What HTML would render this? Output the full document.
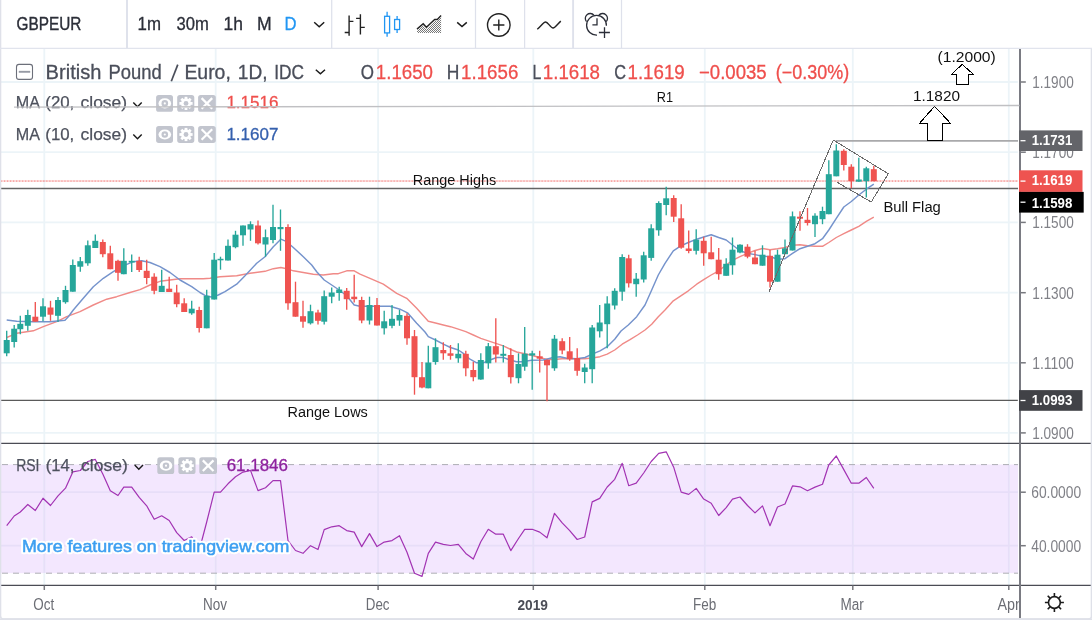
<!DOCTYPE html>
<html><head><meta charset="utf-8"><title>GBPEUR</title>
<style>
html,body{margin:0;padding:0;background:#fff;}
body{width:1092px;height:620px;overflow:hidden;font-family:"Liberation Sans", sans-serif;}
svg{display:block;font-family:"Liberation Sans", sans-serif;will-change:transform;}
</style></head><body>
<svg width="1092" height="620" viewBox="0 0 1092 620">
<rect x="0" y="0" width="1092" height="620" fill="#ffffff"/>
<rect x="1" y="464.5" width="1017" height="108.7" fill="#f3e7fe"/>
<g stroke="#ecf4f8" stroke-width="1.8" fill="none">
<path d="M44.3 48.5V585"/>
<path d="M215.7 48.5V585"/>
<path d="M378.1 48.5V585"/>
<path d="M533.3 48.5V585"/>
<path d="M704.8 48.5V585"/>
<path d="M852.8 48.5V585"/>
<path d="M1008.8 48.5V585"/>
<path d="M1 82H1017.8"/>
<path d="M1 152.2H1017.8"/>
<path d="M1 222.4H1017.8"/>
<path d="M1 292.7H1017.8"/>
<path d="M1 362.8H1017.8"/>
<path d="M1 432.9H1017.8"/>
</g>
<g stroke="#e7def8" stroke-width="1.8" fill="none">
<path d="M44.3 465V573"/>
<path d="M215.7 465V573"/>
<path d="M378.1 465V573"/>
<path d="M533.3 465V573"/>
<path d="M704.8 465V573"/>
<path d="M852.8 465V573"/>
<path d="M1008.8 465V573"/>
<path d="M1 492.2H1018"/>
<path d="M1 545.7H1018"/>
</g>
<g stroke="#adaeb4" stroke-width="1" stroke-dasharray="6 5" fill="none"><path d="M2 464.6H1018"/><path d="M2 573.2H1018"/></g>
<path d="M835.6 140.9H1018" stroke="#a9a9ab" stroke-width="1.9" fill="none"/>
<path d="M1 188.6H1018" stroke="#646464" stroke-width="1.5" fill="none"/>
<path d="M1 400.4H1017.8" stroke="#5a5a5a" stroke-width="1.25" fill="none"/>
<path d="M1 181.1H1018" stroke="#ef5350" stroke-width="2" fill="none" opacity="0.2"/>
<path d="M1 181.1H1018" stroke="#ef5350" stroke-width="1.9" stroke-dasharray="1.1 1.92" fill="none" opacity="0.4"/>
<polyline points="6.7,337.5 16.7,333.3 33.3,330.8 43.3,326.7 56.7,321.7 66.7,316.7 80,311.7 93.3,305 106.7,299.2 116.7,296.7 130,292.5 140,289.7 150,285 160,281.3 170,280 180,278.8 203.3,278.8 210,278.3 220,276.7 236.7,275.8 250,273.3 265,271.3 273.3,268.7 280.8,267.5 286.7,268.7 293.3,270.8 303.3,272.5 313.3,274.2 323.3,275 333.3,273.8 338.3,273.7 346.7,270.8 354.2,270.8 360,274.2 370,278.3 383.3,284.2 396.7,293.3 406.7,298.3 416.7,308.3 428.3,321.3 435.5,323 443.3,325 450.5,326.7 458.3,329.2 465.8,331.7 473.3,335 480.8,338.3 488.3,340.8 495.8,343.3 503.3,345.8 510.8,349.5 516.7,352 524.7,353.7 532.2,355.5 539.7,357.5 547,359.5 554.5,359.5 562.2,358.8 569.7,358.7 577.2,358.7 584.7,358.7 592.2,358 600,356.7 607.2,354.2 614.7,350 622.2,344.2 630,339.7 637.5,335 645,330 651.7,324.2 658.3,316.7 665,310 673.3,300.8 680.8,295.8 688.3,290.8 696.7,284.2 703.7,279.7 711.2,275 718.7,270.8 726.2,265 732.5,260.3 740,256.7 747.5,253.3 755,250.5 762.5,248.5 770,249.7 777.5,248.7 785,247.5 792.5,245.3 800,244.7 807.5,245.8 815,246.3 822.5,246.3 828.8,242.5 836.3,237.5 843.8,233.7 851.3,230 858.8,226.3 866.3,221.3 873.8,217.2" fill="none" stroke="#f08a87" stroke-width="1.4" stroke-linejoin="round"/>
<polyline points="6.7,320 16.7,321.3 33.3,321.7 50,321.7 65,320.3 68.3,316.7 73.3,310 83.3,298.3 93.3,286.7 103.3,278.3 113.3,271.7 123.3,265.8 133.3,261.7 141.7,260.8 150,262.5 160,266.7 170,272.5 180,280 191.7,286.7 200,292.5 205.8,295.8 211,297 218.3,295 225,291.7 236.7,284.2 245,275.8 256.7,263.3 265,256.7 273.3,246.7 280.8,239.2 286.7,241.7 293.3,247.5 303.3,256.7 311.7,265 316.7,271.7 324.2,280 331.7,285 339.2,290 346.7,295.8 354.2,305 360,306.3 390,306.3 400,309.2 407.5,312.8 416.7,323.3 425,332 428.3,336.7 435.5,340 443.3,344.2 450.5,347.5 458.3,350 463.3,353.3 470,359.2 476.7,362.8 483.3,362.8 490,360 496.7,357.5 503.3,357.5 510,360 516.7,361.7 522,361.7 531.7,360.3 543.3,360 553.3,357.5 560,356.7 566.7,358.3 576.7,358.8 585,357.5 592.2,354.2 600,350.8 607.2,346.7 614.7,339.2 621,331 628.3,325 636.7,316.7 645,305 651.7,290 658.3,275 665,263.3 673.3,250.8 680.8,245.8 688.3,242.5 696.7,239.2 703.7,237 711.2,234.7 718.7,237.5 726.2,240 732.5,245 740,250.8 747.5,253.3 755,254.6 762.5,256.2 770,256.5 777.5,259.2 785,258.7 792.5,253.3 800,248.7 807.5,246.3 815,243.7 822.5,238.7 828.8,230 836.3,218.3 843.8,207 851.3,201.5 858.8,195 866.3,189.2 873.8,184.2" fill="none" stroke="#7593cc" stroke-width="1.45" stroke-linejoin="round"/>
<path d="M6.7 330.8V356.3" stroke="#26a69a" stroke-width="1.35"/><rect x="3.7" y="340.0" width="6" height="13.3" fill="#26a69a"/>
<path d="M14.2 325.0V347.5" stroke="#26a69a" stroke-width="1.35"/><rect x="11.2" y="328.7" width="6" height="13.3" fill="#26a69a"/>
<path d="M20.3 315.8V334.2" stroke="#26a69a" stroke-width="1.35"/><rect x="17.3" y="323.8" width="6" height="5.4" fill="#26a69a"/>
<path d="M27.8 309.7V330.8" stroke="#26a69a" stroke-width="1.35"/><rect x="24.8" y="315.0" width="6" height="10.8" fill="#26a69a"/>
<path d="M35.3 302.0V321.7" stroke="#ef5350" stroke-width="1.35"/><rect x="32.3" y="316.7" width="6" height="5.0" fill="#ef5350"/>
<path d="M43.0 298.3V321.3" stroke="#26a69a" stroke-width="1.35"/><rect x="40.0" y="306.3" width="6" height="10.4" fill="#26a69a"/>
<path d="M50.5 300.8V320.8" stroke="#ef5350" stroke-width="1.35"/><rect x="47.5" y="307.5" width="6" height="7.2" fill="#ef5350"/>
<path d="M58.0 297.0V322.0" stroke="#26a69a" stroke-width="1.35"/><rect x="55.0" y="300.0" width="6" height="15.8" fill="#26a69a"/>
<path d="M65.5 285.8V303.7" stroke="#26a69a" stroke-width="1.35"/><rect x="62.5" y="290.0" width="6" height="12.2" fill="#26a69a"/>
<path d="M72.8 259.5V291.7" stroke="#26a69a" stroke-width="1.35"/><rect x="69.8" y="265.0" width="6" height="26.7" fill="#26a69a"/>
<path d="M80.3 257.0V271.7" stroke="#26a69a" stroke-width="1.35"/><rect x="77.3" y="261.2" width="6" height="5.5" fill="#26a69a"/>
<path d="M87.8 240.5V265.8" stroke="#26a69a" stroke-width="1.35"/><rect x="84.8" y="245.3" width="6" height="18.0" fill="#26a69a"/>
<path d="M95.3 234.5V248.0" stroke="#26a69a" stroke-width="1.35"/><rect x="92.3" y="240.8" width="6" height="7.2" fill="#26a69a"/>
<path d="M102.8 239.5V257.2" stroke="#ef5350" stroke-width="1.35"/><rect x="99.8" y="242.0" width="6" height="12.2" fill="#ef5350"/>
<path d="M110.3 245.8V269.2" stroke="#ef5350" stroke-width="1.35"/><rect x="107.3" y="253.3" width="6" height="15.9" fill="#ef5350"/>
<path d="M118.0 259.7V280.8" stroke="#ef5350" stroke-width="1.35"/><rect x="115.0" y="260.8" width="6" height="12.0" fill="#ef5350"/>
<path d="M123.8 248.3V274.2" stroke="#26a69a" stroke-width="1.35"/><rect x="120.8" y="260.8" width="6" height="13.4" fill="#26a69a"/>
<path d="M131.7 254.5V272.0" stroke="#26a69a" stroke-width="1.35"/><rect x="128.7" y="260.8" width="6" height="1.7" fill="#26a69a"/>
<path d="M139.2 256.7V272.0" stroke="#ef5350" stroke-width="1.35"/><rect x="136.2" y="260.8" width="6" height="9.2" fill="#ef5350"/>
<path d="M146.7 259.7V284.2" stroke="#ef5350" stroke-width="1.35"/><rect x="143.7" y="270.8" width="6" height="7.2" fill="#ef5350"/>
<path d="M154.2 273.3V294.2" stroke="#ef5350" stroke-width="1.35"/><rect x="151.2" y="276.7" width="6" height="14.1" fill="#ef5350"/>
<path d="M161.7 269.7V292.0" stroke="#26a69a" stroke-width="1.35"/><rect x="158.7" y="285.8" width="6" height="6.2" fill="#26a69a"/>
<path d="M169.2 276.7V292.0" stroke="#ef5350" stroke-width="1.35"/><rect x="166.2" y="288.7" width="6" height="3.3" fill="#ef5350"/>
<path d="M176.7 284.7V307.2" stroke="#ef5350" stroke-width="1.35"/><rect x="173.7" y="292.5" width="6" height="11.7" fill="#ef5350"/>
<path d="M184.2 298.3V312.0" stroke="#ef5350" stroke-width="1.35"/><rect x="181.2" y="303.3" width="6" height="8.7" fill="#ef5350"/>
<path d="M191.7 300.8V314.7" stroke="#26a69a" stroke-width="1.35"/><rect x="188.7" y="308.7" width="6" height="4.6" fill="#26a69a"/>
<path d="M199.2 306.7V332.5" stroke="#ef5350" stroke-width="1.35"/><rect x="196.2" y="310.0" width="6" height="18.0" fill="#ef5350"/>
<path d="M206.7 289.7V328.3" stroke="#26a69a" stroke-width="1.35"/><rect x="203.7" y="295.8" width="6" height="32.5" fill="#26a69a"/>
<path d="M214.2 253.0V299.5" stroke="#26a69a" stroke-width="1.35"/><rect x="211.2" y="259.7" width="6" height="39.8" fill="#26a69a"/>
<path d="M220.5 256.7V269.7" stroke="#26a69a" stroke-width="1.35"/><rect x="217.5" y="258.8" width="6" height="1.5" fill="#26a69a"/>
<path d="M228.0 239.5V260.5" stroke="#26a69a" stroke-width="1.35"/><rect x="225.0" y="245.8" width="6" height="14.7" fill="#26a69a"/>
<path d="M235.5 230.8V248.3" stroke="#26a69a" stroke-width="1.35"/><rect x="232.5" y="234.7" width="6" height="12.5" fill="#26a69a"/>
<path d="M243.0 225.5V245.8" stroke="#26a69a" stroke-width="1.35"/><rect x="240.0" y="225.5" width="6" height="9.8" fill="#26a69a"/>
<path d="M250.5 221.3V240.8" stroke="#26a69a" stroke-width="1.35"/><rect x="247.5" y="224.2" width="6" height="5.3" fill="#26a69a"/>
<path d="M258.0 220.5V244.5" stroke="#ef5350" stroke-width="1.35"/><rect x="255.0" y="225.5" width="6" height="17.8" fill="#ef5350"/>
<path d="M265.5 229.5V256.7" stroke="#26a69a" stroke-width="1.35"/><rect x="262.5" y="237.2" width="6" height="7.3" fill="#26a69a"/>
<path d="M273.0 204.7V243.3" stroke="#26a69a" stroke-width="1.35"/><rect x="270.0" y="227.0" width="6" height="13.0" fill="#26a69a"/>
<path d="M280.5 209.5V250.8" stroke="#26a69a" stroke-width="1.35"/><rect x="277.5" y="227.0" width="6" height="2.2" fill="#26a69a"/>
<path d="M288.0 224.2V309.7" stroke="#ef5350" stroke-width="1.35"/><rect x="285.0" y="227.0" width="6" height="76.3" fill="#ef5350"/>
<path d="M295.5 281.7V316.7" stroke="#ef5350" stroke-width="1.35"/><rect x="292.5" y="302.2" width="6" height="14.5" fill="#ef5350"/>
<path d="M303.0 300.8V327.8" stroke="#ef5350" stroke-width="1.35"/><rect x="300.0" y="316.2" width="6" height="5.5" fill="#ef5350"/>
<path d="M310.5 304.7V324.5" stroke="#26a69a" stroke-width="1.35"/><rect x="307.5" y="311.2" width="6" height="12.1" fill="#26a69a"/>
<path d="M318.0 309.7V324.5" stroke="#ef5350" stroke-width="1.35"/><rect x="315.0" y="312.5" width="6" height="8.3" fill="#ef5350"/>
<path d="M324.2 290.5V324.5" stroke="#26a69a" stroke-width="1.35"/><rect x="321.2" y="296.2" width="6" height="25.5" fill="#26a69a"/>
<path d="M331.7 287.5V303.3" stroke="#26a69a" stroke-width="1.35"/><rect x="328.7" y="292.5" width="6" height="4.2" fill="#26a69a"/>
<path d="M339.2 286.7V300.8" stroke="#26a69a" stroke-width="1.35"/><rect x="336.2" y="289.5" width="6" height="3.5" fill="#26a69a"/>
<path d="M346.7 288.0V309.7" stroke="#ef5350" stroke-width="1.35"/><rect x="343.7" y="290.8" width="6" height="8.4" fill="#ef5350"/>
<path d="M354.2 274.7V302.5" stroke="#ef5350" stroke-width="1.35"/><rect x="351.2" y="296.7" width="6" height="2.5" fill="#ef5350"/>
<path d="M361.7 296.7V323.3" stroke="#ef5350" stroke-width="1.35"/><rect x="358.7" y="300.0" width="6" height="20.5" fill="#ef5350"/>
<path d="M369.5 296.7V324.5" stroke="#26a69a" stroke-width="1.35"/><rect x="366.5" y="305.0" width="6" height="15.5" fill="#26a69a"/>
<path d="M377.0 298.0V325.5" stroke="#ef5350" stroke-width="1.35"/><rect x="374.0" y="305.0" width="6" height="20.5" fill="#ef5350"/>
<path d="M384.2 310.8V334.5" stroke="#26a69a" stroke-width="1.35"/><rect x="381.2" y="321.3" width="6" height="7.0" fill="#26a69a"/>
<path d="M392.0 305.0V328.3" stroke="#26a69a" stroke-width="1.35"/><rect x="389.0" y="318.8" width="6" height="7.0" fill="#26a69a"/>
<path d="M399.5 310.0V325.8" stroke="#26a69a" stroke-width="1.35"/><rect x="396.5" y="315.0" width="6" height="5.5" fill="#26a69a"/>
<path d="M407.0 313.3V344.7" stroke="#ef5350" stroke-width="1.35"/><rect x="404.0" y="315.8" width="6" height="22.5" fill="#ef5350"/>
<path d="M414.5 330.0V394.7" stroke="#ef5350" stroke-width="1.35"/><rect x="411.5" y="336.2" width="6" height="41.0" fill="#ef5350"/>
<path d="M422.0 362.0V388.3" stroke="#ef5350" stroke-width="1.35"/><rect x="419.0" y="377.2" width="6" height="10.3" fill="#ef5350"/>
<path d="M428.3 345.8V388.3" stroke="#26a69a" stroke-width="1.35"/><rect x="425.3" y="362.5" width="6" height="25.8" fill="#26a69a"/>
<path d="M435.5 338.3V364.7" stroke="#26a69a" stroke-width="1.35"/><rect x="432.5" y="347.2" width="6" height="14.8" fill="#26a69a"/>
<path d="M443.3 342.2V359.7" stroke="#ef5350" stroke-width="1.35"/><rect x="440.3" y="350.0" width="6" height="3.3" fill="#ef5350"/>
<path d="M450.5 345.0V359.7" stroke="#ef5350" stroke-width="1.35"/><rect x="447.5" y="353.3" width="6" height="2.5" fill="#ef5350"/>
<path d="M458.3 343.3V362.8" stroke="#26a69a" stroke-width="1.35"/><rect x="455.3" y="353.8" width="6" height="4.5" fill="#26a69a"/>
<path d="M465.8 350.8V376.3" stroke="#ef5350" stroke-width="1.35"/><rect x="462.8" y="353.8" width="6" height="14.5" fill="#ef5350"/>
<path d="M473.3 361.7V381.3" stroke="#ef5350" stroke-width="1.35"/><rect x="470.3" y="370.0" width="6" height="7.2" fill="#ef5350"/>
<path d="M480.8 353.3V379.7" stroke="#26a69a" stroke-width="1.35"/><rect x="477.8" y="360.0" width="6" height="19.5" fill="#26a69a"/>
<path d="M488.3 343.0V368.8" stroke="#26a69a" stroke-width="1.35"/><rect x="485.3" y="346.2" width="6" height="17.1" fill="#26a69a"/>
<path d="M495.8 318.3V362.5" stroke="#ef5350" stroke-width="1.35"/><rect x="492.8" y="346.2" width="6" height="8.3" fill="#ef5350"/>
<path d="M503.3 345.0V362.5" stroke="#26a69a" stroke-width="1.35"/><rect x="500.3" y="353.8" width="6" height="2.0" fill="#26a69a"/>
<path d="M510.8 348.3V383.5" stroke="#ef5350" stroke-width="1.35"/><rect x="507.8" y="355.0" width="6" height="22.2" fill="#ef5350"/>
<path d="M518.5 353.3V383.3" stroke="#26a69a" stroke-width="1.35"/><rect x="515.5" y="364.0" width="6" height="14.2" fill="#26a69a"/>
<path d="M524.7 327.0V370.8" stroke="#26a69a" stroke-width="1.35"/><rect x="521.7" y="353.7" width="6" height="13.0" fill="#26a69a"/>
<path d="M532.2 350.8V389.7" stroke="#26a69a" stroke-width="1.35"/><rect x="529.2" y="353.3" width="6" height="2.2" fill="#26a69a"/>
<path d="M539.7 350.8V372.5" stroke="#ef5350" stroke-width="1.35"/><rect x="536.7" y="356.3" width="6" height="2.4" fill="#ef5350"/>
<path d="M547.0 359.2V401.2" stroke="#ef5350" stroke-width="1.35"/><rect x="544.0" y="360.0" width="6" height="5.3" fill="#ef5350"/>
<path d="M554.5 335.0V370.8" stroke="#26a69a" stroke-width="1.35"/><rect x="551.5" y="338.7" width="6" height="29.6" fill="#26a69a"/>
<path d="M562.2 338.3V354.2" stroke="#ef5350" stroke-width="1.35"/><rect x="559.2" y="341.2" width="6" height="9.3" fill="#ef5350"/>
<path d="M569.7 337.0V360.8" stroke="#ef5350" stroke-width="1.35"/><rect x="566.7" y="351.3" width="6" height="7.9" fill="#ef5350"/>
<path d="M577.2 348.3V375.8" stroke="#ef5350" stroke-width="1.35"/><rect x="574.2" y="358.0" width="6" height="12.8" fill="#ef5350"/>
<path d="M584.7 363.7V383.3" stroke="#26a69a" stroke-width="1.35"/><rect x="581.7" y="367.5" width="6" height="4.5" fill="#26a69a"/>
<path d="M592.2 325.0V383.3" stroke="#26a69a" stroke-width="1.35"/><rect x="589.2" y="327.5" width="6" height="41.7" fill="#26a69a"/>
<path d="M599.7 305.0V337.5" stroke="#26a69a" stroke-width="1.35"/><rect x="596.7" y="322.5" width="6" height="8.8" fill="#26a69a"/>
<path d="M607.2 296.2V348.3" stroke="#26a69a" stroke-width="1.35"/><rect x="604.2" y="303.5" width="6" height="20.7" fill="#26a69a"/>
<path d="M614.7 288.3V309.5" stroke="#26a69a" stroke-width="1.35"/><rect x="611.7" y="290.8" width="6" height="14.7" fill="#26a69a"/>
<path d="M622.2 254.2V300.8" stroke="#26a69a" stroke-width="1.35"/><rect x="619.2" y="257.0" width="6" height="34.7" fill="#26a69a"/>
<path d="M628.7 254.7V287.5" stroke="#ef5350" stroke-width="1.35"/><rect x="625.7" y="258.3" width="6" height="25.0" fill="#ef5350"/>
<path d="M636.2 273.0V296.7" stroke="#26a69a" stroke-width="1.35"/><rect x="633.2" y="278.7" width="6" height="5.5" fill="#26a69a"/>
<path d="M643.7 251.7V282.5" stroke="#26a69a" stroke-width="1.35"/><rect x="640.7" y="255.3" width="6" height="24.2" fill="#26a69a"/>
<path d="M651.2 224.2V260.8" stroke="#26a69a" stroke-width="1.35"/><rect x="648.2" y="228.3" width="6" height="29.6" fill="#26a69a"/>
<path d="M658.7 201.3V235.7" stroke="#26a69a" stroke-width="1.35"/><rect x="655.7" y="203.0" width="6" height="27.3" fill="#26a69a"/>
<path d="M666.2 186.7V215.3" stroke="#26a69a" stroke-width="1.35"/><rect x="663.2" y="198.3" width="6" height="6.7" fill="#26a69a"/>
<path d="M673.7 195.3V222.0" stroke="#ef5350" stroke-width="1.35"/><rect x="670.7" y="198.0" width="6" height="18.7" fill="#ef5350"/>
<path d="M681.2 204.2V248.8" stroke="#ef5350" stroke-width="1.35"/><rect x="678.2" y="218.3" width="6" height="29.4" fill="#ef5350"/>
<path d="M688.7 230.5V253.3" stroke="#ef5350" stroke-width="1.35"/><rect x="685.7" y="248.5" width="6" height="2.5" fill="#ef5350"/>
<path d="M696.2 229.2V254.5" stroke="#26a69a" stroke-width="1.35"/><rect x="693.2" y="239.7" width="6" height="11.1" fill="#26a69a"/>
<path d="M703.7 236.7V265.8" stroke="#ef5350" stroke-width="1.35"/><rect x="700.7" y="240.8" width="6" height="12.5" fill="#ef5350"/>
<path d="M711.2 236.7V259.2" stroke="#ef5350" stroke-width="1.35"/><rect x="708.2" y="252.3" width="6" height="6.9" fill="#ef5350"/>
<path d="M718.7 248.0V279.7" stroke="#ef5350" stroke-width="1.35"/><rect x="715.7" y="259.7" width="6" height="14.5" fill="#ef5350"/>
<path d="M726.2 258.3V275.8" stroke="#26a69a" stroke-width="1.35"/><rect x="723.2" y="263.8" width="6" height="12.0" fill="#26a69a"/>
<path d="M732.5 237.5V274.7" stroke="#26a69a" stroke-width="1.35"/><rect x="729.5" y="249.7" width="6" height="15.6" fill="#26a69a"/>
<path d="M740.0 244.2V253.3" stroke="#26a69a" stroke-width="1.35"/><rect x="737.0" y="244.7" width="6" height="7.8" fill="#26a69a"/>
<path d="M747.5 244.2V258.3" stroke="#ef5350" stroke-width="1.35"/><rect x="744.5" y="246.7" width="6" height="10.0" fill="#ef5350"/>
<path d="M755.0 250.8V264.2" stroke="#ef5350" stroke-width="1.35"/><rect x="752.0" y="257.5" width="6" height="6.7" fill="#ef5350"/>
<path d="M762.5 245.3V265.7" stroke="#26a69a" stroke-width="1.35"/><rect x="759.5" y="254.7" width="6" height="11.0" fill="#26a69a"/>
<path d="M770.0 250.0V287.5" stroke="#ef5350" stroke-width="1.35"/><rect x="767.0" y="255.8" width="6" height="25.9" fill="#ef5350"/>
<path d="M777.5 249.7V281.7" stroke="#26a69a" stroke-width="1.35"/><rect x="774.5" y="254.7" width="6" height="27.0" fill="#26a69a"/>
<path d="M785.0 239.5V254.2" stroke="#26a69a" stroke-width="1.35"/><rect x="782.0" y="248.3" width="6" height="5.9" fill="#26a69a"/>
<path d="M792.5 211.5V250.5" stroke="#26a69a" stroke-width="1.35"/><rect x="789.5" y="216.3" width="6" height="34.2" fill="#26a69a"/>
<path d="M800.0 211.3V230.8" stroke="#ef5350" stroke-width="1.35"/><rect x="797.0" y="216.7" width="6" height="2.0" fill="#ef5350"/>
<path d="M807.5 208.0V225.5" stroke="#ef5350" stroke-width="1.35"/><rect x="804.5" y="219.8" width="6" height="3.2" fill="#ef5350"/>
<path d="M815.0 213.2V237.0" stroke="#26a69a" stroke-width="1.35"/><rect x="812.0" y="215.7" width="6" height="8.5" fill="#26a69a"/>
<path d="M822.5 206.7V224.2" stroke="#26a69a" stroke-width="1.35"/><rect x="819.5" y="211.0" width="6" height="8.2" fill="#26a69a"/>
<path d="M828.8 160.3V214.2" stroke="#26a69a" stroke-width="1.35"/><rect x="825.8" y="174.2" width="6" height="40.0" fill="#26a69a"/>
<path d="M836.3 144.2V176.3" stroke="#26a69a" stroke-width="1.35"/><rect x="833.3" y="150.5" width="6" height="25.8" fill="#26a69a"/>
<path d="M843.8 149.2V170.5" stroke="#ef5350" stroke-width="1.35"/><rect x="840.8" y="150.8" width="6" height="14.2" fill="#ef5350"/>
<path d="M851.3 164.2V188.3" stroke="#ef5350" stroke-width="1.35"/><rect x="848.3" y="166.7" width="6" height="14.5" fill="#ef5350"/>
<path d="M858.8 157.8V181.7" stroke="#26a69a" stroke-width="1.35"/><rect x="855.8" y="179.5" width="6" height="2.2" fill="#26a69a"/>
<path d="M866.3 166.7V197.5" stroke="#26a69a" stroke-width="1.35"/><rect x="863.3" y="168.3" width="6" height="12.9" fill="#26a69a"/>
<path d="M873.8 165.8V181.2" stroke="#ef5350" stroke-width="1.35"/><rect x="870.8" y="169.2" width="6" height="12.0" fill="#ef5350"/>
<polyline points="769,292 833.3,140 888.3,173.8 871.2,202 836.7,182" fill="none" stroke="#6a6a6a" stroke-width="1" shape-rendering="crispEdges"/>
<path d="M934.6 106.3L950.6 123.4H942.6V140.4H927.6V123.4H919.4Z" fill="#fff" stroke="#000" stroke-width="1" stroke-linejoin="miter" shape-rendering="crispEdges"/>
<path d="M962.2 64.3L973.7 74.7H968V84.5H956.4V74.7H951.3Z" fill="#fff" stroke="#000" stroke-width="1" stroke-linejoin="miter" shape-rendering="crispEdges"/>
<polyline points="6.7,525.6 14.2,516.0 20.3,512.0 27.8,504.5 35.3,510.5 43.0,498.2 50.5,505.5 58.0,495.8 65.5,488.2 72.8,471.9 80.3,470.5 87.8,461.5 95.3,459.4 102.8,474.1 110.3,490.7 118.0,495.5 123.8,487.1 131.7,487.1 139.2,497.4 146.7,505.8 154.2,519.3 161.7,515.8 169.2,520.5 176.7,532.6 184.2,540.5 191.7,536.8 199.2,550.5 206.7,522.0 214.2,492.1 220.5,492.1 228.0,483.8 235.5,476.7 243.0,472.1 250.5,470.4 258.0,490.6 265.5,487.8 273.0,480.6 280.5,480.6 288.0,540.5 295.5,550.5 303.0,553.3 310.5,545.7 318.0,549.5 324.2,529.6 331.7,526.8 339.2,525.7 346.7,530.6 354.2,532.1 361.7,546.6 369.5,533.6 377.0,546.6 384.2,542.1 392.0,540.6 399.5,535.7 407.0,552.3 414.5,573.2 422.0,576.4 428.3,553.4 435.5,542.1 443.3,544.4 450.5,545.5 458.3,544.4 465.8,553.4 473.3,559.1 480.8,541.7 488.3,529.3 495.8,534.2 503.3,534.2 510.8,550.6 518.5,538.5 524.7,529.3 532.2,529.3 539.7,532.1 547.0,537.8 554.5,513.3 562.2,522.9 569.7,530.6 577.2,539.5 584.7,537.0 592.2,501.9 599.7,498.4 607.2,487.0 614.7,479.3 622.2,463.3 628.7,485.7 636.2,483.1 643.7,473.0 651.2,461.5 658.7,453.3 666.2,451.8 673.7,467.2 681.2,492.1 688.7,494.4 696.2,488.4 703.7,499.1 711.2,503.3 718.7,515.5 726.2,507.6 732.5,499.1 740.0,497.0 747.5,505.5 755.0,512.9 762.5,505.9 770.0,525.7 777.5,507.0 785.0,504.0 792.5,485.9 800.0,486.8 807.5,490.7 815.0,487.1 822.5,484.2 828.8,464.8 836.3,456.0 843.8,469.6 851.3,483.2 858.8,483.2 866.3,477.5 873.8,488.3" fill="none" stroke="#a233b3" stroke-width="1.2" stroke-linejoin="round"/>
<path d="M1 443.4H1091" stroke="#4b4c55" stroke-width="1.2"/>
<path d="M1 585.3H1091" stroke="#4b4c55" stroke-width="1.2"/>
<path d="M1020.0 49V618" stroke="#7a7b82" stroke-width="2"/>
<g stroke="#77787e" stroke-width="1.5">
<path d="M1021 82H1025.8"/>
<path d="M1021 152.2H1025.8"/>
<path d="M1021 222.4H1025.8"/>
<path d="M1021 292.7H1025.8"/>
<path d="M1021 362.8H1025.8"/>
<path d="M1021 432.9H1025.8"/>
<path d="M1021 492.2H1025.8"/>
<path d="M1021 545.7H1025.8"/>
<path d="M44.3 585.5V590"/>
<path d="M215.7 585.5V590"/>
<path d="M378.1 585.5V590"/>
<path d="M533.3 585.5V590"/>
<path d="M704.8 585.5V590"/>
<path d="M852.8 585.5V590"/>
<path d="M1008.8 585.5V590"/>
</g>
<path d="M0.5 0V616Q0.5 619 3.5 619H1088Q1091.5 619 1091.5 616V48" fill="none" stroke="#dfe1e9" stroke-width="1.6"/>
<rect x="0" y="618.3" width="1092" height="1.7" fill="#dfe1e9"/>
<path d="M0 48.4H1092" stroke="#e1e4ed" stroke-width="1.3"/>
<path d="M127 0V48" stroke="#dee1eb" stroke-width="1.9"/>
<path d="M331.7 0V48" stroke="#dee1eb" stroke-width="1.25"/>
<path d="M475.5 0V48" stroke="#dee1eb" stroke-width="1.25"/>
<path d="M524.6 0V48" stroke="#dee1eb" stroke-width="1.25"/>
<path d="M573.1 0V48" stroke="#dee1eb" stroke-width="1.9"/>
<path d="M621.5 0V48" stroke="#dee1eb" stroke-width="1.25"/>
<text x="16.6" y="29.8" font-size="18.4" fill="#2b2e38" font-weight="normal" textLength="64.8" lengthAdjust="spacingAndGlyphs" stroke="#2b2e38" stroke-width="0.4">GBPEUR</text>
<text x="137.6" y="29.8" font-size="18.4" fill="#2b2e38" font-weight="normal" textLength="23.4" lengthAdjust="spacingAndGlyphs" stroke="#2b2e38" stroke-width="0.3">1m</text>
<text x="176.6" y="29.8" font-size="18.4" fill="#2b2e38" font-weight="normal" textLength="32.3" lengthAdjust="spacingAndGlyphs" stroke="#2b2e38" stroke-width="0.3">30m</text>
<text x="223.6" y="29.8" font-size="18.4" fill="#2b2e38" font-weight="normal" textLength="19.4" lengthAdjust="spacingAndGlyphs" stroke="#2b2e38" stroke-width="0.3">1h</text>
<text x="256.9" y="29.8" font-size="18.4" fill="#2b2e38" font-weight="normal" textLength="14.7" lengthAdjust="spacingAndGlyphs" stroke="#2b2e38" stroke-width="0.3">M</text>
<text x="284.5" y="29.8" font-size="18.4" fill="#2196f3" font-weight="normal" textLength="12.0" lengthAdjust="spacingAndGlyphs" stroke="#2196f3" stroke-width="0.3">D</text>
<path d="M314.2 22.2L319.2 26.7L324.2 22.2" fill="none" stroke="#1a1a1a" stroke-width="1.45"/>
<path d="M457.2 22.4L462.0 26.6L466.8 22.4" fill="none" stroke="#1a1a1a" stroke-width="1.45"/>
<path d="M349.1 15.6V35.7M349.1 21.4H353.4M344.7 32.5H349.1M360.4 14.3V34.5M356.1 18.4H360.4M360.4 27.4H364.8" fill="none" stroke="#222" stroke-width="1.4"/>
<g fill="none" stroke="#2196f3" stroke-width="1.3"><rect x="384.6" y="16.3" width="5" height="16.6"/><path d="M387.1 11.8V16.3M387.1 32.9V36.8"/><rect x="394.6" y="19.5" width="5" height="10"/><path d="M397.1 16V19.5M397.1 29.5V32.9"/></g>
<defs><pattern id="dots" width="2" height="2" patternUnits="userSpaceOnUse"><rect width="1" height="1" fill="#555"/><rect x="1" y="1" width="1" height="1" fill="#555"/></pattern></defs>
<path d="M417 30.6L423.2 25.2L426.4 28.7L434.7 21L437.3 21L441.1 17.1V32.9H417Z" fill="url(#dots)" opacity="0.8"/>
<path d="M417 29.1L423.2 23.7L426.4 27.2L434.7 19.5L437.3 19.5L441.1 15.6" fill="none" stroke="#222" stroke-width="1.4"/>
<g fill="none" stroke="#222" stroke-width="1.4"><circle cx="498.8" cy="25" r="11.3"/><path d="M493.2 25H504.4M498.8 19.5V30.5"/></g>
<path d="M537.3 29.3C541 26 543.5 22 545.6 22C548 22 550.5 28 553.1 28C555 28 558 23.5 560.8 21.1" fill="none" stroke="#222" stroke-width="1.4"/>
<g fill="none" stroke="#2b2e38" stroke-width="1.3"><path d="M597 35.2A9.9 9.9 0 1 1 606.4 25.7"/><path d="M586.5 21.6A4.6 4.6 0 1 1 593.9 15.2"/><path d="M598.9 15.2A4.6 4.6 0 1 1 606.3 21.6"/><path d="M597 18.2V24.9H592.4"/><path d="M598.9 32.5H609.9M604.5 27.2V38.1"/></g>
<rect x="16.5" y="64.4" width="16" height="15" rx="2.5" fill="#fff" stroke="#6c6f7a" stroke-width="1.1"/><path d="M18.8 71.8H30.2" stroke="#969aa4" stroke-width="1.9"/>
<text x="45.6" y="78.5" font-size="19.5" fill="#4a4e5a" font-weight="normal" textLength="55.8" lengthAdjust="spacingAndGlyphs" stroke="#4a4e5a" stroke-width="0.3">British</text>
<text x="108.6" y="78.5" font-size="19.5" fill="#4a4e5a" font-weight="normal" textLength="53.2" lengthAdjust="spacingAndGlyphs" stroke="#4a4e5a" stroke-width="0.3">Pound</text>
<path d="M171.3 81.2L177.8 64.6" stroke="#4a4e5a" stroke-width="1.7" fill="none"/>
<text x="184.4" y="78.5" font-size="19.5" fill="#4a4e5a" font-weight="normal" textLength="46.4" lengthAdjust="spacingAndGlyphs" stroke="#4a4e5a" stroke-width="0.3">Euro,</text>
<text x="237.8" y="78.5" font-size="19.5" fill="#4a4e5a" font-weight="normal" textLength="29.7" lengthAdjust="spacingAndGlyphs" stroke="#4a4e5a" stroke-width="0.3">1D,</text>
<text x="274.2" y="78.5" font-size="19.5" fill="#4a4e5a" font-weight="normal" textLength="29.8" lengthAdjust="spacingAndGlyphs" stroke="#4a4e5a" stroke-width="0.3">IDC</text>
<path d="M315.8 69.8L320.4 73.9L325.0 69.8" fill="none" stroke="#1a1a1a" stroke-width="1.45"/>
<text x="360.8" y="78.5" font-size="19.5" fill="#4a4e5a" font-weight="normal" textLength="13.2" lengthAdjust="spacingAndGlyphs" stroke="#4a4e5a" stroke-width="0.3">O</text>
<text x="375.8" y="78.5" font-size="19.5" fill="#ef4f4c" font-weight="normal" textLength="57.2" lengthAdjust="spacingAndGlyphs" stroke="#ef4f4c" stroke-width="0.3">1.1650</text>
<text x="446.7" y="78.5" font-size="19.5" fill="#4a4e5a" font-weight="normal" textLength="12.6" lengthAdjust="spacingAndGlyphs" stroke="#4a4e5a" stroke-width="0.3">H</text>
<text x="461.1" y="78.5" font-size="19.5" fill="#ef4f4c" font-weight="normal" textLength="57.2" lengthAdjust="spacingAndGlyphs" stroke="#ef4f4c" stroke-width="0.3">1.1656</text>
<text x="532.5" y="78.5" font-size="19.5" fill="#4a4e5a" font-weight="normal" textLength="8.8" lengthAdjust="spacingAndGlyphs" stroke="#4a4e5a" stroke-width="0.3">L</text>
<text x="542.8" y="78.5" font-size="19.5" fill="#ef4f4c" font-weight="normal" textLength="57.2" lengthAdjust="spacingAndGlyphs" stroke="#ef4f4c" stroke-width="0.3">1.1618</text>
<text x="614.2" y="78.5" font-size="19.5" fill="#4a4e5a" font-weight="normal" textLength="11.8" lengthAdjust="spacingAndGlyphs" stroke="#4a4e5a" stroke-width="0.3">C</text>
<text x="627.5" y="78.5" font-size="19.5" fill="#ef4f4c" font-weight="normal" textLength="57.2" lengthAdjust="spacingAndGlyphs" stroke="#ef4f4c" stroke-width="0.3">1.1619</text>
<text x="699.0" y="78.5" font-size="19.5" fill="#ef4f4c" font-weight="normal" textLength="67.7" lengthAdjust="spacingAndGlyphs" stroke="#ef4f4c" stroke-width="0.3">−0.0035</text>
<text x="775.8" y="78.5" font-size="19.5" fill="#ef4f4c" font-weight="normal" textLength="73.4" lengthAdjust="spacingAndGlyphs" stroke="#ef4f4c" stroke-width="0.3">(−0.30%)</text>
<text x="15.8" y="108.4" font-size="17.1" fill="#4d515d" font-weight="normal" textLength="24.2" lengthAdjust="spacingAndGlyphs" stroke="#4d515d" stroke-width="0.25">MA</text>
<text x="45.3" y="108.4" font-size="17.1" fill="#4d515d" font-weight="normal" textLength="29.0" lengthAdjust="spacingAndGlyphs" stroke="#4d515d" stroke-width="0.25">(20,</text>
<text x="80.6" y="108.4" font-size="17.1" fill="#4d515d" font-weight="normal" textLength="46.4" lengthAdjust="spacingAndGlyphs" stroke="#4d515d" stroke-width="0.25">close)</text>
<path d="M133.3 102.6L137.5 106.7L141.7 102.6" fill="none" stroke="#1a1a1a" stroke-width="1.45"/>
<rect x="156.1" y="95.0" width="16.9" height="16.8" rx="2.6" fill="#c2c5ce"/>
<rect x="177.2" y="95.0" width="17.1" height="16.8" rx="2.6" fill="#c2c5ce"/>
<rect x="198.1" y="95.0" width="17.7" height="16.8" rx="2.6" fill="#c2c5ce"/>
<ellipse cx="164.8" cy="103.4" rx="6.3" ry="5.1" fill="#fff"/><circle cx="164.8" cy="103.4" r="3.3" fill="#c2c5ce"/><circle cx="164.8" cy="103.4" r="1.1" fill="#fff"/>
<circle cx="186.0" cy="103.4" r="4.9" fill="#fff"/>
<rect x="184.6" y="96.8" width="2.8" height="3" fill="#fff" transform="rotate(0 186.0 103.4)"/>
<rect x="184.6" y="96.8" width="2.8" height="3" fill="#fff" transform="rotate(45 186.0 103.4)"/>
<rect x="184.6" y="96.8" width="2.8" height="3" fill="#fff" transform="rotate(90 186.0 103.4)"/>
<rect x="184.6" y="96.8" width="2.8" height="3" fill="#fff" transform="rotate(135 186.0 103.4)"/>
<rect x="184.6" y="96.8" width="2.8" height="3" fill="#fff" transform="rotate(180 186.0 103.4)"/>
<rect x="184.6" y="96.8" width="2.8" height="3" fill="#fff" transform="rotate(225 186.0 103.4)"/>
<rect x="184.6" y="96.8" width="2.8" height="3" fill="#fff" transform="rotate(270 186.0 103.4)"/>
<rect x="184.6" y="96.8" width="2.8" height="3" fill="#fff" transform="rotate(315 186.0 103.4)"/>
<circle cx="186.0" cy="103.4" r="2.4" fill="#c2c5ce"/>
<path d="M201.6 98.1L212.2 108.7M212.2 98.1L201.6 108.7" stroke="#fff" stroke-width="2.2" fill="none"/>
<text x="226.4" y="108.4" font-size="17.1" fill="#ef4f4c" font-weight="normal" textLength="52.0" lengthAdjust="spacingAndGlyphs" stroke="#ef4f4c" stroke-width="0.3">1.1516</text>
<text x="15.8" y="140.2" font-size="17.1" fill="#4d515d" font-weight="normal" textLength="24.2" lengthAdjust="spacingAndGlyphs" stroke="#4d515d" stroke-width="0.25">MA</text>
<text x="45.3" y="140.2" font-size="17.1" fill="#4d515d" font-weight="normal" textLength="29.0" lengthAdjust="spacingAndGlyphs" stroke="#4d515d" stroke-width="0.25">(10,</text>
<text x="80.6" y="140.2" font-size="17.1" fill="#4d515d" font-weight="normal" textLength="46.4" lengthAdjust="spacingAndGlyphs" stroke="#4d515d" stroke-width="0.25">close)</text>
<path d="M133.3 134.6L137.5 138.7L141.7 134.6" fill="none" stroke="#1a1a1a" stroke-width="1.45"/>
<rect x="156.1" y="126.1" width="16.9" height="16.8" rx="2.6" fill="#c2c5ce"/>
<rect x="177.2" y="126.1" width="17.1" height="16.8" rx="2.6" fill="#c2c5ce"/>
<rect x="198.1" y="126.1" width="17.7" height="16.8" rx="2.6" fill="#c2c5ce"/>
<ellipse cx="164.8" cy="134.5" rx="6.3" ry="5.1" fill="#fff"/><circle cx="164.8" cy="134.5" r="3.3" fill="#c2c5ce"/><circle cx="164.8" cy="134.5" r="1.1" fill="#fff"/>
<circle cx="186.0" cy="134.5" r="4.9" fill="#fff"/>
<rect x="184.6" y="127.9" width="2.8" height="3" fill="#fff" transform="rotate(0 186.0 134.5)"/>
<rect x="184.6" y="127.9" width="2.8" height="3" fill="#fff" transform="rotate(45 186.0 134.5)"/>
<rect x="184.6" y="127.9" width="2.8" height="3" fill="#fff" transform="rotate(90 186.0 134.5)"/>
<rect x="184.6" y="127.9" width="2.8" height="3" fill="#fff" transform="rotate(135 186.0 134.5)"/>
<rect x="184.6" y="127.9" width="2.8" height="3" fill="#fff" transform="rotate(180 186.0 134.5)"/>
<rect x="184.6" y="127.9" width="2.8" height="3" fill="#fff" transform="rotate(225 186.0 134.5)"/>
<rect x="184.6" y="127.9" width="2.8" height="3" fill="#fff" transform="rotate(270 186.0 134.5)"/>
<rect x="184.6" y="127.9" width="2.8" height="3" fill="#fff" transform="rotate(315 186.0 134.5)"/>
<circle cx="186.0" cy="134.5" r="2.4" fill="#c2c5ce"/>
<path d="M201.6 129.2L212.2 139.8M212.2 129.2L201.6 139.8" stroke="#fff" stroke-width="2.2" fill="none"/>
<text x="226.4" y="140.2" font-size="17.1" fill="#3560ae" font-weight="normal" textLength="52.0" lengthAdjust="spacingAndGlyphs" stroke="#3560ae" stroke-width="0.3">1.1607</text>
<text x="16.2" y="470.7" font-size="17.1" fill="#4d515d" font-weight="normal" textLength="23.3" lengthAdjust="spacingAndGlyphs" stroke="#4d515d" stroke-width="0.25">RSI</text>
<text x="45.7" y="470.7" font-size="17.1" fill="#4d515d" font-weight="normal" textLength="28.6" lengthAdjust="spacingAndGlyphs" stroke="#4d515d" stroke-width="0.25">(14,</text>
<text x="81.1" y="470.7" font-size="17.1" fill="#4d515d" font-weight="normal" textLength="46.7" lengthAdjust="spacingAndGlyphs" stroke="#4d515d" stroke-width="0.25">close)</text>
<path d="M134.7 465.0L138.8 469.2L143.0 465.0" fill="none" stroke="#1a1a1a" stroke-width="1.45"/>
<rect x="157.3" y="457.3" width="16.9" height="16.8" rx="2.6" fill="#c2c5ce"/>
<rect x="178.4" y="457.3" width="17.1" height="16.8" rx="2.6" fill="#c2c5ce"/>
<rect x="199.3" y="457.3" width="17.7" height="16.8" rx="2.6" fill="#c2c5ce"/>
<ellipse cx="166.0" cy="465.7" rx="6.3" ry="5.1" fill="#fff"/><circle cx="166.0" cy="465.7" r="3.3" fill="#c2c5ce"/><circle cx="166.0" cy="465.7" r="1.1" fill="#fff"/>
<circle cx="187.2" cy="465.7" r="4.9" fill="#fff"/>
<rect x="185.8" y="459.1" width="2.8" height="3" fill="#fff" transform="rotate(0 187.2 465.7)"/>
<rect x="185.8" y="459.1" width="2.8" height="3" fill="#fff" transform="rotate(45 187.2 465.7)"/>
<rect x="185.8" y="459.1" width="2.8" height="3" fill="#fff" transform="rotate(90 187.2 465.7)"/>
<rect x="185.8" y="459.1" width="2.8" height="3" fill="#fff" transform="rotate(135 187.2 465.7)"/>
<rect x="185.8" y="459.1" width="2.8" height="3" fill="#fff" transform="rotate(180 187.2 465.7)"/>
<rect x="185.8" y="459.1" width="2.8" height="3" fill="#fff" transform="rotate(225 187.2 465.7)"/>
<rect x="185.8" y="459.1" width="2.8" height="3" fill="#fff" transform="rotate(270 187.2 465.7)"/>
<rect x="185.8" y="459.1" width="2.8" height="3" fill="#fff" transform="rotate(315 187.2 465.7)"/>
<circle cx="187.2" cy="465.7" r="2.4" fill="#c2c5ce"/>
<path d="M202.8 460.4L213.5 471.0M213.5 460.4L202.8 471.0" stroke="#fff" stroke-width="2.2" fill="none"/>
<text x="226.7" y="470.7" font-size="17.1" fill="#8e229e" font-weight="normal" textLength="61.2" lengthAdjust="spacingAndGlyphs" stroke="#8e229e" stroke-width="0.3">61.1846</text>
<path d="M14 107.2L1019.5 105.5" stroke="#c0c0c3" stroke-width="1.35" fill="none"/>
<text x="656.7" y="102.0" font-size="15.2" fill="#111" font-weight="normal" textLength="16.3" lengthAdjust="spacingAndGlyphs">R1</text>
<text x="913.0" y="100.9" font-size="15.2" fill="#111" font-weight="normal" textLength="47.0" lengthAdjust="spacingAndGlyphs">1.1820</text>
<text x="937.5" y="61.8" font-size="15.2" fill="#111" font-weight="normal" textLength="58.3" lengthAdjust="spacingAndGlyphs">(1.2000)</text>
<text x="412.8" y="184.5" font-size="15.2" fill="#111" font-weight="normal" textLength="83.4" lengthAdjust="spacingAndGlyphs">Range Highs</text>
<text x="287.5" y="416.7" font-size="15.2" fill="#111" font-weight="normal" textLength="80.3" lengthAdjust="spacingAndGlyphs">Range Lows</text>
<text x="883.4" y="211.7" font-size="15.2" fill="#111" font-weight="normal" textLength="57.4" lengthAdjust="spacingAndGlyphs">Bull Flag</text>
<text x="22.0" y="551.9" font-size="16.2" fill="#ffffff" font-weight="normal" textLength="267.4" lengthAdjust="spacingAndGlyphs" stroke="#ffffff" stroke-width="4.4" stroke-linejoin="round">More features on tradingview.com</text>
<text x="22.0" y="551.9" font-size="16.2" fill="#3d9ff1" font-weight="normal" textLength="267.4" lengthAdjust="spacingAndGlyphs" stroke="#3d9ff1" stroke-width="0.5">More features on tradingview.com</text>
<text x="1032.2" y="88.0" font-size="15.8" fill="#808187" font-weight="normal" textLength="41.6" lengthAdjust="spacingAndGlyphs">1.1900</text>
<text x="1032.2" y="158.2" font-size="15.8" fill="#808187" font-weight="normal" textLength="41.6" lengthAdjust="spacingAndGlyphs">1.1700</text>
<text x="1032.2" y="228.4" font-size="15.8" fill="#808187" font-weight="normal" textLength="41.6" lengthAdjust="spacingAndGlyphs">1.1500</text>
<text x="1032.2" y="298.7" font-size="15.8" fill="#808187" font-weight="normal" textLength="41.6" lengthAdjust="spacingAndGlyphs">1.1300</text>
<text x="1032.2" y="368.8" font-size="15.8" fill="#808187" font-weight="normal" textLength="41.6" lengthAdjust="spacingAndGlyphs">1.1100</text>
<text x="1032.2" y="438.9" font-size="15.8" fill="#808187" font-weight="normal" textLength="41.6" lengthAdjust="spacingAndGlyphs">1.0900</text>
<text x="1031.2" y="498.2" font-size="15.8" fill="#808187" font-weight="normal" textLength="50.0" lengthAdjust="spacingAndGlyphs">60.0000</text>
<text x="1031.2" y="551.7" font-size="15.8" fill="#808187" font-weight="normal" textLength="50.0" lengthAdjust="spacingAndGlyphs">40.0000</text>
<rect x="1019" y="130.4" width="63.5" height="20.599999999999994" fill="#636469"/>
<path d="M1020.5 140.7H1025.5" stroke="#fff" stroke-width="1.3"/>
<text x="1031.7" y="145.4" font-size="15.1" fill="#fff" font-weight="bold" textLength="40.6" lengthAdjust="spacingAndGlyphs">1.1731</text>
<rect x="1019" y="170.3" width="63.5" height="21.599999999999994" fill="#ee5350"/>
<path d="M1020.5 181.1H1025.5" stroke="#fff" stroke-width="1.3"/>
<text x="1031.7" y="185.4" font-size="15.1" fill="#fff" font-weight="bold" textLength="40.6" lengthAdjust="spacingAndGlyphs">1.1619</text>
<rect x="1019" y="191.9" width="64.70000000000005" height="20.69999999999999" fill="#000"/>
<path d="M1020.5 202.2H1025.5" stroke="#fff" stroke-width="1.3"/>
<text x="1031.7" y="207.5" font-size="15.1" fill="#fff" font-weight="bold" textLength="40.6" lengthAdjust="spacingAndGlyphs">1.1598</text>
<rect x="1019" y="390.1" width="63.5" height="20.69999999999999" fill="#414247"/>
<path d="M1020.5 400.5H1025.5" stroke="#fff" stroke-width="1.3"/>
<text x="1031.7" y="405.0" font-size="14.5" fill="#fff" font-weight="bold" textLength="40.6" lengthAdjust="spacingAndGlyphs">1.0993</text>
<text x="33.3" y="609.8" font-size="15.8" fill="#6b6d74" font-weight="normal" textLength="20.9" lengthAdjust="spacingAndGlyphs">Oct</text>
<text x="203.0" y="609.8" font-size="15.8" fill="#6b6d74" font-weight="normal" textLength="24.0" lengthAdjust="spacingAndGlyphs">Nov</text>
<text x="365.8" y="609.8" font-size="15.8" fill="#6b6d74" font-weight="normal" textLength="23.7" lengthAdjust="spacingAndGlyphs">Dec</text>
<text x="517.5" y="609.8" font-size="15.2" fill="#4a4c55" font-weight="bold" textLength="30.5" lengthAdjust="spacingAndGlyphs">2019</text>
<text x="693.0" y="609.8" font-size="15.8" fill="#6b6d74" font-weight="normal" textLength="23.3" lengthAdjust="spacingAndGlyphs">Feb</text>
<text x="840.5" y="609.8" font-size="15.8" fill="#6b6d74" font-weight="normal" textLength="23.3" lengthAdjust="spacingAndGlyphs">Mar</text>
<clipPath id="cpa"><rect x="990" y="590" width="28.8" height="28"/></clipPath>
<text x="997.5" y="609.8" font-size="15.8" fill="#6b6d74" font-weight="normal" textLength="22.3" lengthAdjust="spacingAndGlyphs" clip-path="url(#cpa)">Apr</text>
<circle cx="1054.4" cy="602.5" r="5.9" fill="none" stroke="#1c1c1c" stroke-width="1.6"/>
<path d="M1060.6 602.5L1063.9 602.5M1058.8 606.9L1061.1 609.2M1054.4 608.7L1054.4 612.0M1050.0 606.9L1047.7 609.2M1048.2 602.5L1044.9 602.5M1050.0 598.1L1047.7 595.8M1054.4 596.3L1054.4 593.0M1058.8 598.1L1061.1 595.8" stroke="#1c1c1c" stroke-width="1.6" fill="none"/>
</svg></body></html>
